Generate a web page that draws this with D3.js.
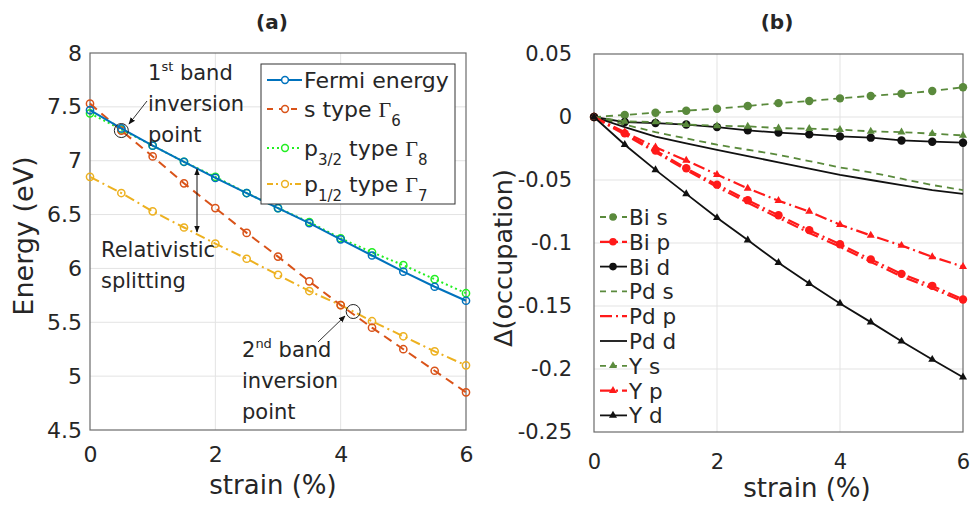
<!DOCTYPE html>
<html lang="en">
  <head>
    <meta charset="UTF-8" />
    <title>strain charts</title>
    <script src="https://d3js.org/d3.v7.min.js"></script>
    <style>
      body { margin: 0; background: #fff; }
      svg text { font-family: 'DejaVu Sans', sans-serif; fill: #262626; }
      .grid line { stroke: #e3e3e3; stroke-width: 1; }
    </style>
  </head>
  <body></body>
  <script type="text/javascript">
    var width = 973,
      height = 506;

    // strain points (%)
    var strain = [0, 0.5, 1, 1.5, 2, 2.5, 3, 3.5, 4, 4.5, 5, 5.5, 6];

    // panel (a): energies (eV)
    var fermi = [7.47, 7.3, 7.14, 6.99, 6.84, 6.7, 6.56, 6.42, 6.27, 6.12, 5.97, 5.83, 5.7];
    var sType = [7.53, 7.28, 7.04, 6.79, 6.56, 6.33, 6.11, 5.88, 5.66, 5.45, 5.25, 5.05, 4.85];
    var p32 = [7.44, 7.29, 7.14, 6.99, 6.85, 6.7, 6.56, 6.43, 6.28, 6.15, 6.03, 5.9, 5.77];
    var p12 = [6.85, 6.7, 6.53, 6.38, 6.23, 6.09, 5.94, 5.79, 5.66, 5.51, 5.37, 5.23, 5.1];
    var energyTicks = [4.5, 5, 5.5, 6, 6.5, 7, 7.5, 8];
    var strainTicks = [0, 2, 4, 6];

    // panel (b): change of occupation
    var biS = [0, 0.0016, 0.0034, 0.005, 0.0066, 0.0087, 0.011, 0.0127, 0.0148, 0.0167, 0.0185, 0.0206, 0.0236];
    var biP = [0, -0.013, -0.0266, -0.0407, -0.0537, -0.066, -0.078, -0.0898, -0.101, -0.113, -0.1245, -0.134, -0.1448];
    var biD = [0, -0.004, -0.0048, -0.006, -0.008, -0.0106, -0.0124, -0.0138, -0.0154, -0.0164, -0.0186, -0.0196, -0.0204];
    var pdS = [0, -0.006, -0.012, -0.017, -0.022, -0.026, -0.03, -0.035, -0.04, -0.044, -0.049, -0.054, -0.058];
    var pdP = [0, -0.014, -0.028, -0.042, -0.0555, -0.068, -0.08, -0.092, -0.103, -0.115, -0.1265, -0.136, -0.1465];
    var pdD = [0, -0.008, -0.0155, -0.021, -0.026, -0.031, -0.036, -0.041, -0.046, -0.05, -0.054, -0.058, -0.061];
    var yS = [0, -0.0035, -0.004, -0.006, -0.007, -0.0074, -0.0088, -0.0093, -0.01, -0.0114, -0.012, -0.0132, -0.0146];
    var yP = [0, -0.012, -0.024, -0.0345, -0.0457, -0.0566, -0.0664, -0.075, -0.0855, -0.094, -0.102, -0.111, -0.1188];
    var yD = [0, -0.022, -0.042, -0.061, -0.08, -0.0977, -0.1156, -0.1322, -0.148, -0.1628, -0.178, -0.1925, -0.2065];
    var occTicks = [-0.25, -0.2, -0.15, -0.1, -0.05, 0, 0.05];

    var svg = d3.select('body').append('svg').attr('width', width).attr('height', height);

    function frame(x, y, xt, yt, yfmt, ydx, xdy, fs) {
      var g = svg.append('g');
      g.append('g').attr('class', 'grid').selectAll('line').data(xt.slice(1, -1)).join('line')
        .attr('x1', d => x(d)).attr('x2', d => x(d)).attr('y1', y.range()[0]).attr('y2', y.range()[1]);
      g.append('g').attr('class', 'grid').selectAll('line').data(yt.slice(1, -1)).join('line')
        .attr('y1', d => y(d)).attr('y2', d => y(d)).attr('x1', x.range()[0]).attr('x2', x.range()[1]);
      var ax = g.append('g').attr('transform', 'translate(0,' + y.range()[0] + ')')
        .call(d3.axisBottom(x).tickValues(xt).tickSize(0).tickPadding(xdy).tickFormat(d3.format('d')));
      var ay = g.append('g').attr('transform', 'translate(' + x.range()[0] + ',0)')
        .call(d3.axisLeft(y).tickValues(yt).tickSize(0).tickPadding(ydx).tickFormat(yfmt));
      ax.select('.domain').remove();
      ay.select('.domain').remove();
      g.selectAll('.tick text').attr('fill', '#262626').style('font-size', fs + 'px')
        .style('font-family', 'DejaVu Sans, sans-serif');
      g.append('rect').attr('x', x.range()[0]).attr('y', y.range()[1])
        .attr('width', x.range()[1] - x.range()[0]).attr('height', y.range()[0] - y.range()[1])
        .attr('fill', 'none').attr('stroke', '#6b6b6b').attr('stroke-width', 1.2);
      return g;
    }

    // ---------- panel (a) ----------
    var xa = d3.scaleLinear().domain([0, 6]).range([90, 466]);
    var ya = d3.scaleLinear().domain([4.5, 8]).range([430, 53]);
    frame(xa, ya, strainTicks, energyTicks, d3.format('~g'), 8, 16, 22);

    var seriesA = [
      { v: fermi, color: '#0072BD', dash: null },
      { v: sType, color: '#D95319', dash: '9,6' },
      { v: p32, color: '#22ee22', dash: '2,3' },
      { v: p12, color: '#EDB120', dash: '10,4,2,4' }
    ];
    // p3/2 goes under the Fermi line where they overlap
    var orderA = [seriesA[2], seriesA[3], seriesA[1], seriesA[0]];
    var lineA = d3.line().x((d, i) => xa(strain[i])).y(d => ya(d));
    orderA.forEach(function (s) {
      svg.append('path').attr('d', lineA(s.v)).attr('fill', 'none')
        .attr('stroke', s.color).attr('stroke-width', 2).attr('stroke-dasharray', s.dash);
      svg.append('g').selectAll('circle').data(s.v).join('circle')
        .attr('cx', (d, i) => xa(strain[i])).attr('cy', d => ya(d)).attr('r', 3.6)
        .attr('fill', 'none').attr('stroke', s.color).attr('stroke-width', 1.5);
    });

    // annotations (a)
    svg.append('defs').append('marker').attr('id', 'ah').attr('viewBox', '0 0 10 10')
      .attr('refX', 9).attr('refY', 5).attr('markerWidth', 7).attr('markerHeight', 7)
      .attr('orient', 'auto-start-reverse')
      .append('path').attr('d', 'M0,1 L10,5 L0,9 Z').attr('fill', '#111');

    svg.append('circle').attr('cx', xa(0.5)).attr('cy', ya(7.28)).attr('r', 7)
      .attr('fill', 'none').attr('stroke', '#222').attr('stroke-width', 1);
    svg.append('circle').attr('cx', xa(4.2)).attr('cy', ya(5.6)).attr('r', 7)
      .attr('fill', 'none').attr('stroke', '#222').attr('stroke-width', 1);
    svg.append('line').attr('x1', 147).attr('y1', 101).attr('x2', 129).attr('y2', 124)
      .attr('stroke', '#333').attr('stroke-width', 1).attr('marker-end', 'url(#ah)');
    svg.append('line').attr('x1', 318).attr('y1', 342).attr('x2', 345).attr('y2', 316)
      .attr('stroke', '#333').attr('stroke-width', 1).attr('marker-end', 'url(#ah)');
    svg.append('line').attr('x1', 197).attr('y1', 169).attr('x2', 197).attr('y2', 232)
      .attr('stroke', '#111').attr('stroke-width', 1)
      .attr('marker-start', 'url(#ah)').attr('marker-end', 'url(#ah)');

    function note(x, y, lines) {
      var t = svg.append('g');
      lines.forEach(function (l, i) {
        var tx = t.append('text').attr('x', x).attr('y', y + i * 31).attr('font-size', 21);
        if (typeof l === 'object') {
          tx.append('tspan').text(l.a);
          tx.append('tspan').text(l.sup).attr('font-size', 13).attr('dy', -9);
          tx.append('tspan').text(l.b).attr('dy', 9);
        } else tx.text(l);
      });
    }
    note(148, 80, [{ a: '1', sup: 'st', b: ' band' }, 'inversion', 'point']);
    note(242, 357, [{ a: '2', sup: 'nd', b: ' band' }, 'inversion', 'point']);
    note(101, 257, ['Relativistic', 'splitting']);

    // legend (a)
    var legA = svg.append('g');
    legA.append('rect').attr('x', 261).attr('y', 64).attr('width', 194).attr('height', 140)
      .attr('fill', '#fff').attr('stroke', '#333').attr('stroke-width', 1);
    var legRowsA = [
      { s: seriesA[0], y: 80, main: 'Fermi energy', dash: null },
      { s: seriesA[1], y: 109, main: 's type ', g: '6', dash: '6,6' },
      { s: seriesA[2], y: 148, main: 'p', sub: '3/2', rest: ' type ', g: '8', dash: '2,3' },
      { s: seriesA[3], y: 184, main: 'p', sub: '1/2', rest: ' type ', g: '7', dash: '6,3,2,3' }
    ];
    legRowsA.forEach(function (r) {
      legA.append('line').attr('x1', 267).attr('x2', 302).attr('y1', r.y).attr('y2', r.y)
        .attr('stroke', r.s.color).attr('stroke-width', 2).attr('stroke-dasharray', r.dash);
      legA.append('circle').attr('cx', 285).attr('cy', r.y).attr('r', 3.4)
        .attr('fill', '#fff').attr('stroke', r.s.color).attr('stroke-width', 1.5);
      var t = legA.append('text').attr('x', 304).attr('y', r.y + 8).attr('font-size', 22);
      t.append('tspan').text(r.main);
      if (r.sub) {
        t.append('tspan').text(r.sub).attr('font-size', 15).attr('dy', 9);
        t.append('tspan').text(r.rest).attr('dy', -9);
      }
      if (r.g) {
        t.append('tspan').text('\u0393').attr('font-family', 'Liberation Serif, serif').attr('font-size', 22);
        t.append('tspan').text(r.g).attr('font-size', 15).attr('dy', 9);
      }
    });

    svg.append('text').attr('x', 272).attr('y', 29).attr('text-anchor', 'middle')
      .attr('font-size', 20).attr('font-weight', 'bold').text('(a)');
    svg.append('text').attr('x', 273).attr('y', 494).attr('text-anchor', 'middle')
      .attr('font-size', 26).text('strain (%)');
    svg.append('text').attr('transform', 'translate(33,236) rotate(-90)').attr('text-anchor', 'middle')
      .attr('font-size', 27).text('Energy (eV)');

    // ---------- panel (b) ----------
    var xb = d3.scaleLinear().domain([0, 6]).range([594, 963]);
    var yb = d3.scaleLinear().domain([-0.25, 0.05]).range([432, 54]);
    frame(xb, yb, strainTicks, occTicks, d => (d === 0 ? '0' : d3.format('~g')(d).replace('\u2212', '-')), 22, 22, 21);

    var green = '#5a8a3c', red = '#ff1a1a', black = '#111';
    var seriesB = [
      { name: 'Bi s', v: biS, color: green, dash: '7,5', mk: 'circle' },
      { name: 'Bi p', v: biP, color: red, dash: '12,4,2,4', mk: 'circle' },
      { name: 'Bi d', v: biD, color: black, dash: null, mk: 'circle' },
      { name: 'Pd s', v: pdS, color: green, dash: '7,5', mk: null },
      { name: 'Pd p', v: pdP, color: red, dash: '12,4,2,4', mk: null },
      { name: 'Pd d', v: pdD, color: black, dash: null, mk: null },
      { name: 'Y s', v: yS, color: green, dash: '7,5', mk: 'tri' },
      { name: 'Y p', v: yP, color: red, dash: '12,4,2,4', mk: 'tri' },
      { name: 'Y d', v: yD, color: black, dash: null, mk: 'tri' }
    ];
    var lineB = d3.line().x((d, i) => xb(strain[i])).y(d => yb(d));
    var tri = d3.symbol().type(d3.symbolTriangle).size(28);
    seriesB.forEach(function (s) {
      svg.append('path').attr('d', lineB(s.v)).attr('fill', 'none')
        .attr('stroke', s.color).attr('stroke-width', s.color === red ? 2.2 : 1.8)
        .attr('stroke-dasharray', s.dash);
      if (s.mk === 'circle') {
        svg.append('g').selectAll('circle').data(s.v).join('circle')
          .attr('cx', (d, i) => xb(strain[i])).attr('cy', d => yb(d)).attr('r', 4.2)
          .attr('fill', s.color);
      } else if (s.mk === 'tri') {
        svg.append('g').selectAll('path').data(s.v).join('path')
          .attr('d', tri)
          .attr('transform', (d, i) => 'translate(' + xb(strain[i]) + ',' + yb(d) + ')')
          .attr('fill', s.color);
      }
    });

    // legend (b), no box
    var legB = svg.append('g');
    seriesB.forEach(function (s, i) {
      var y = 217 + i * 24.8;
      legB.append('line').attr('x1', 600).attr('x2', 627).attr('y1', y).attr('y2', y)
        .attr('stroke', s.color).attr('stroke-width', s.color === red ? 2.2 : 1.8)
        .attr('stroke-dasharray', s.dash ? (s.color === red ? '12,4,2,4' : '6,5') : null);
      if (s.mk === 'circle') {
        legB.append('circle').attr('cx', 613).attr('cy', y).attr('r', 3.8).attr('fill', s.color);
      } else if (s.mk === 'tri') {
        legB.append('path').attr('d', tri).attr('transform', 'translate(613,' + y + ')').attr('fill', s.color);
      }
      legB.append('text').attr('x', 629).attr('y', y + 8).attr('font-size', 21.5).text(s.name);
    });

    svg.append('text').attr('x', 777).attr('y', 29).attr('text-anchor', 'middle')
      .attr('font-size', 20).attr('font-weight', 'bold').text('(b)');
    svg.append('text').attr('x', 807).attr('y', 497).attr('text-anchor', 'middle')
      .attr('font-size', 26).text('strain (%)');
    svg.append('text').attr('transform', 'translate(512,258) rotate(-90)').attr('text-anchor', 'middle')
      .attr('font-size', 25.5).text('\u0394(occupation)');
  </script>
</html>
